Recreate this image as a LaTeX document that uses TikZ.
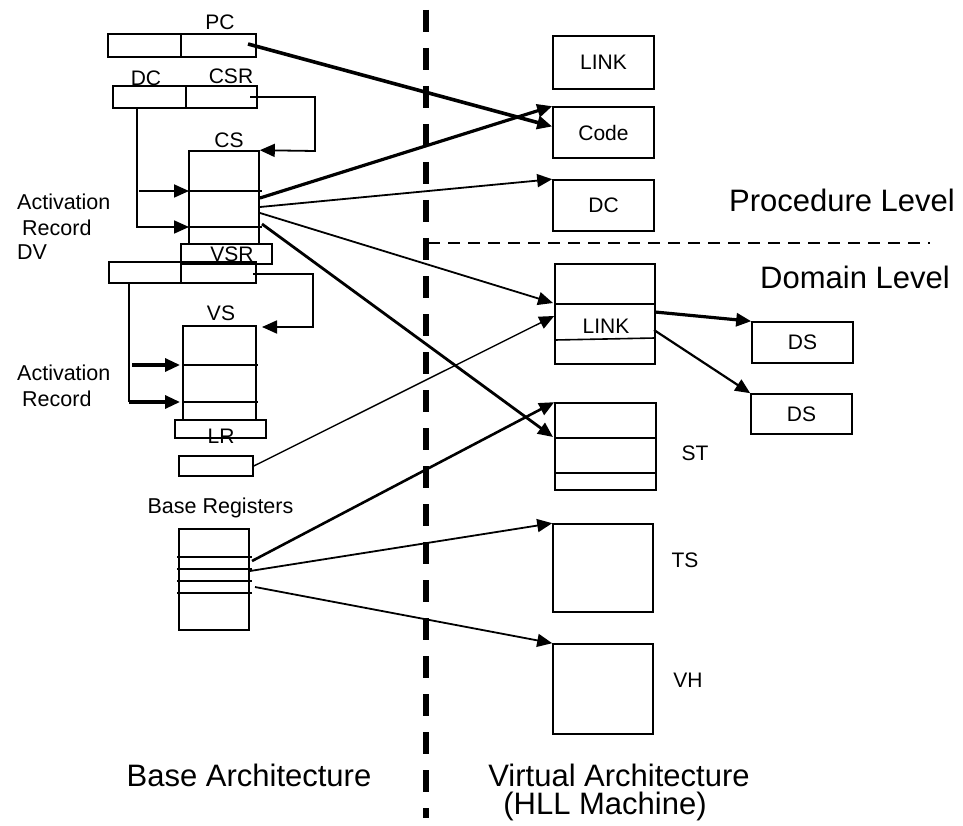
\documentclass[tikz,border=0pt]{standalone}
\usepackage{fontspec}
\setmainfont{Liberation Sans}
\usetikzlibrary{arrows.meta}
\tikzstyle{reg}=[rectangle,draw=black,line width=1.6pt,inner sep=0pt,
  font=\fontsize{21}{23}\selectfont]
\tikzstyle{lbl}=[inner sep=0pt,font=\fontsize{21}{23}\selectfont]
\tikzstyle{side}=[inner sep=0pt,anchor=west,font=\fontsize{21.5}{24}\selectfont]
\tikzstyle{big}=[inner sep=0pt,font=\fontsize{31}{35}\selectfont]
\tikzstyle{wire}=[line width=1.6pt]
\tikzstyle{ptr}=[line width=1.8pt,-{Triangle[length=15pt,width=13pt]}]
\tikzstyle{bptr}=[line width=3.2pt,-{Triangle[length=15pt,width=13pt]}]

\begin{document}
\begin{tikzpicture}[x=1pt,y=-1pt]
        \useasboundingbox (0,0) rectangle (963,826);
        \node [style=reg,minimum width=73pt,minimum height=23pt] (pcl) at (144.5,45.5) {};
        \node [style=reg,minimum width=75pt,minimum height=23pt] (pcr) at (218.5,45.5) {};
        \node [style=lbl] (pclbl) at (220,22) {PC};
        \node [style=reg,minimum width=73pt,minimum height=22pt] (dcl) at (149.5,97) {};
        \node [style=reg,minimum width=71pt,minimum height=22pt] (csr) at (221.5,97) {};
        \node [style=lbl] (dclbl) at (146,78) {DC};
        \node [style=lbl] (csrlbl) at (231,76) {CSR};
        \node [style=lbl] (cslbl) at (229,140) {CS};
        \node [style=reg,minimum width=70pt,minimum height=93pt] (cs) at (224,197.5) {};
        \draw [style=wire] (189,191) -- (262,191);
        \draw [style=wire] (189,227) -- (262,227);
        \node [style=reg,minimum width=91pt,minimum height=20pt] (vsr) at (226.5,254) {};
        \node [style=lbl] (vsrlbl) at (232,254) {VSR};
        \node [style=reg,minimum width=72pt,minimum height=21pt] (dvl) at (145,272.5) {};
        \node [style=reg,minimum width=75pt,minimum height=21pt] (dvr) at (218.5,272.5) {};
        \node [style=lbl] (vslbl) at (221,313) {VS};
        \node [style=reg,minimum width=73pt,minimum height=94pt] (vs) at (219.5,373) {};
        \draw [style=wire] (183,365) -- (258,365);
        \draw [style=wire] (183,402) -- (258,402);
        \node [style=reg,minimum width=91pt,minimum height=18pt] (lr) at (220.5,429) {};
        \node [style=lbl] (lrlbl) at (221,436) {LR};
        \node [style=reg,minimum width=74pt,minimum height=20pt] (lrreg) at (216,466) {};
        \node [style=side] (act1) at (17,202) {Activation};
        \node [style=side] (rec1) at (22,228) {Record};
        \node [style=side] (dvlbl) at (17,252) {DV};
        \node [style=side] (act2) at (17,373) {Activation};
        \node [style=side] (rec2) at (22,399) {Record};
        \node [style=lbl,font=\fontsize{21.5}{24}\selectfont] (brlbl) at (220.5,508) {Base Registers};
        \node [style=reg,minimum width=70pt,minimum height=101pt] (br) at (214,579.5) {};
        \draw [style=wire] (177,557) -- (252,557);
        \draw [style=wire] (177,569) -- (252,569);
        \draw [style=wire] (177,581) -- (252,581);
        \draw [style=wire] (177,593) -- (252,593);
        \node [style=reg,minimum width=101pt,minimum height=53pt] (link) at (603.5,62.5) {LINK};
        \node [style=reg,minimum width=101pt,minimum height=51pt] (code) at (603.5,132.5) {Code};
        \node [style=reg,minimum width=101pt,minimum height=51pt] (dcv) at (603.5,205.5) {DC};
        \node [style=reg,minimum width=100pt,minimum height=100pt] (dom) at (605,314) {};
        \draw [style=wire] (555,304) -- (655,304);
        \draw [style=wire] (555,340) -- (655,338);
        \node [style=lbl] (domlbl) at (606,326) {LINK};
        \node [style=reg,minimum width=101pt,minimum height=41pt] (ds1) at (802.5,342.5) {DS};
        \node [style=reg,minimum width=101pt,minimum height=40pt] (ds2) at (801.5,414) {DS};
        \node [style=reg,minimum width=101pt,minimum height=87pt] (st) at (605.5,446.5) {};
        \draw [style=wire] (555,438) -- (656,438);
        \draw [style=wire] (555,473) -- (656,473);
        \node [style=lbl] (stlbl) at (695,453) {ST};
        \node [style=reg,minimum width=100pt,minimum height=88pt] (ts) at (603,568) {};
        \node [style=lbl] (tslbl) at (685,560) {TS};
        \node [style=reg,minimum width=100pt,minimum height=90pt] (vh) at (603,689) {};
        \node [style=lbl] (vhlbl) at (688,680) {VH};
        \node [style=big] (proc) at (842,200) {Procedure Level};
        \node [style=big] (domain) at (855,277) {Domain Level};
        \node [style=big] (base) at (249,775) {Base Architecture};
        \node [style=big] (virt) at (619,775) {Virtual Architecture};
        \node [style=big] (hll) at (605,806) {(HLL Machine)};
        \draw [line width=6pt,dash pattern=on 22pt off 16pt] (426,10) -- (426,818);
        \draw [line width=1.6pt,dash pattern=on 12pt off 8pt] (428,243) -- (930,243);
        \coordinate (pcout) at (248,44);
        \coordinate (csrout) at (250,97);
        \coordinate (dcout) at (137,108);
        \coordinate (dctap) at (139,191);
        \coordinate (csrow1) at (189,191);
        \coordinate (csrow2) at (189,227);
        \coordinate (dvout) at (253,274);
        \coordinate (vsin) at (262,327);
        \coordinate (dvdown) at (129,283);
        \coordinate (dvbend) at (129,402);
        \coordinate (dvtap) at (132,365);
        \coordinate (vsrow1) at (180,365);
        \coordinate (vsrow2) at (180,402);
        \coordinate (cs1) at (260,198);
        \coordinate (cs2) at (260,207);
        \coordinate (cs3) at (260,213);
        \coordinate (cs4) at (262,224);
        \coordinate (domrow) at (553,303);
        \coordinate (strow) at (553,437);
        \coordinate (dom1) at (655,312);
        \coordinate (dom2) at (654,330);
        \coordinate (br1) at (252,561);
        \coordinate (br2) at (250,571);
        \coordinate (br3) at (255,587);
        \draw [style=ptr] (csrout) -| (315,151) -- (cs.north east);
        \draw [style=ptr] (dcout) |- (csrow2);
        \draw [style=ptr] (dctap) -- (csrow1);
        \draw [style=ptr] (dvout) -| (313,327) -- (vsin);
        \draw [style=wire] (dvdown) -- (dvbend);
        \draw [style=bptr] (dvbend) -- (vsrow2);
        \draw [style=bptr] (dvtap) -- (vsrow1);
        \draw [style=bptr,line width=3.6pt] (pcout) -- ([yshift=6pt]code.west);
        \draw [style=bptr] (cs1) -- (code.north west);
        \draw [style=ptr] (cs2) -- (dcv.north west);
        \draw [style=ptr] (cs3) -- (domrow);
        \draw [style=bptr,line width=2.8pt] (cs4) -- (strow);
        \draw [style=ptr,line width=1.4pt] (lrreg.east) -- ([yshift=-2pt]dom.west);
        \draw [style=bptr] (dom1) -- (ds1.north west);
        \draw [style=ptr,line width=2.2pt] (dom2) -- (ds2.north west);
        \draw [style=bptr,line width=2.6pt] (br1) -- (st.north west);
        \draw [style=ptr] (br2) -- (ts.north west);
        \draw [style=ptr] (br3) -- (vh.north west);
    \end{tikzpicture}
\end{document}
